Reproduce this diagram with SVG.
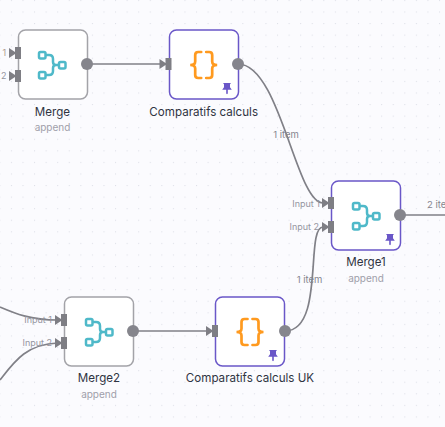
<svg xmlns="http://www.w3.org/2000/svg" width="445" height="427" viewBox="0 0 445 427">
<style>
text{font-family:Inter,"Liberation Sans",sans-serif}
.box{fill:#fff;stroke:#a3a3a8;stroke-width:1.5}
.pinned{fill:#fff;stroke:#6a57c8;stroke-width:1.5}
.title{font-size:11.6px;font-weight:400;fill:#2f3442;text-anchor:middle}
.sub{font-size:10px;fill:#a0a0aa;text-anchor:middle}
.port{font-size:9px;fill:#95959e;text-anchor:end}
.edge{font-size:9.5px;fill:#85858e;text-anchor:middle}
.wire{fill:none;stroke:#808087;stroke-width:1.7}
.out{fill:#85858c}
.in{fill:#7e7e84}
.merge{fill:none;stroke:#4fb9c9;stroke-width:2.5}
.brace{fill:none;stroke:#ff9a1f;stroke-width:2.7;stroke-linecap:round}
.pin{fill:#6a57c8}
</style>
<defs>
<pattern id="dots" width="11.57" height="11.57" patternUnits="userSpaceOnUse" x="10.9" y="-.1"><circle cx=".6" cy=".6" r=".55" fill="#d6d8e1"/></pattern>
<g id="inp"><path class="in" d="M-9-5L-3-1V-6H3V6H-3V1L-9 5Z"/></g>
<g id="mg"><rect class="merge" x="-13" y="-13" width="6.500" height="6.500" rx="1.500"/><rect class="merge" x="-13" y="7" width="6.500" height="6.500" rx="1.500"/><rect class="merge" x="7" y="-3" width="6.500" height="6.500" rx="1.500"/><path class="merge" d="M-6.500-10H-3Q1-10 1-6V-3Q1 0 4 0H7M-6.500 10H-3Q1 10 1 6V3Q1 0 4 0"/></g>
<g id="br"><path class="brace" d="M-2.500-13H-5.500Q-8.500-13-8.500-10V-3.500Q-8.500 0-13.500 0Q-8.500 0-8.500 3.500V10Q-8.500 13-5.500 13H-2.500M2.500-13H5.500Q8.500-13 8.500-10V-3.500Q8.500 0 13.500 0Q8.500 0 8.500 3.500V10Q8.500 13 5.500 13H2.500"/></g>
<g id="pn"><path class="pin" d="M-4-5H4L3-3.700V-.7L4.800 1.700H.8V5.500L0 6.300L-.8 5.500V1.700H-4.800L-3-.7V-3.700Z"/></g>
</defs>
<rect width="445" height="427" fill="#fbfbfe"/>
<rect width="445" height="427" fill="url(#dots)"/>
<g id="connectors">
<path class="wire" d="M87 64H163"/>
<path class="wire" d="M238 64C280 64 296 203 323 203"/>
<path class="wire" d="M400 215H445"/>
<path class="wire" d="M285 331C325 331 305 227 323 227"/>
<path class="wire" d="M133 331H209"/>
<path class="wire" d="M0 307C14 313 30 320 58 320"/>
<path class="wire" d="M0 380C14 362 26 344 58 343"/>
<text class="edge" x="286" y="137.500">1 item</text>
<text class="edge" x="309.500" y="283">1 item</text>
<text class="edge" x="427" y="208" style="text-anchor:start">2 ite</text>
</g>
<g id="merge">
<rect class="box" x="18.500" y="30" width="69" height="69" rx="7"/>
<use href="#inp" x="18" y="53"/><use href="#inp" x="18" y="76"/>
<circle class="out" cx="87" cy="64" r="6"/>
<use href="#mg" x="52" y="65"/>
<text x="2.500" y="56" style="font-size:9px;fill:#b09a90">1</text>
<text x="1" y="79" style="font-size:9px;fill:#95959e">2</text>
<text class="title" x="52.500" y="115.500">Merge</text>
<text class="sub" x="52.500" y="131">append</text>
</g>
<g id="comparatifs-calculs">
<rect class="pinned" x="169.500" y="30" width="69" height="69" rx="7"/>
<use href="#inp" x="168.500" y="64"/>
<circle class="out" cx="238" cy="64" r="6"/>
<use href="#br" x="203.700" y="65"/>
<use href="#pn" x="227" y="88"/>
<text class="title" x="203.700" y="115.500">Comparatifs calculs</text>
</g>
<g id="merge1">
<rect class="pinned" x="331.500" y="181" width="69" height="69" rx="7"/>
<use href="#inp" x="331" y="203"/><use href="#inp" x="331" y="227"/>
<circle class="out" cx="400" cy="215" r="6"/>
<use href="#mg" x="366" y="216"/>
<use href="#pn" x="390" y="239"/>
<text class="port" x="320" y="207">Input 1</text>
<text class="port" x="319" y="230">Input 2</text>
<text class="title" x="366" y="266">Merge1</text>
<text class="sub" x="366" y="282">append</text>
</g>
<g id="merge2">
<rect class="box" x="64.500" y="297" width="69" height="69" rx="7"/>
<use href="#inp" x="64" y="320"/><use href="#inp" x="64" y="343"/>
<circle class="out" cx="133" cy="331" r="6"/>
<use href="#mg" x="99" y="332"/>
<text class="port" x="52" y="323">Input 1</text>
<text class="port" x="52" y="346">Input 2</text>
<text class="title" x="99" y="382">Merge2</text>
<text class="sub" x="99" y="398">append</text>
</g>
<g id="comparatifs-calculs-uk">
<rect class="pinned" x="215.500" y="297" width="69" height="69" rx="7"/>
<use href="#inp" x="215" y="331"/>
<circle class="out" cx="285" cy="331" r="6"/>
<use href="#br" x="250" y="332"/>
<use href="#pn" x="273" y="355"/>
<text class="title" x="250" y="382">Comparatifs calculs UK</text>
</g>
</svg>
